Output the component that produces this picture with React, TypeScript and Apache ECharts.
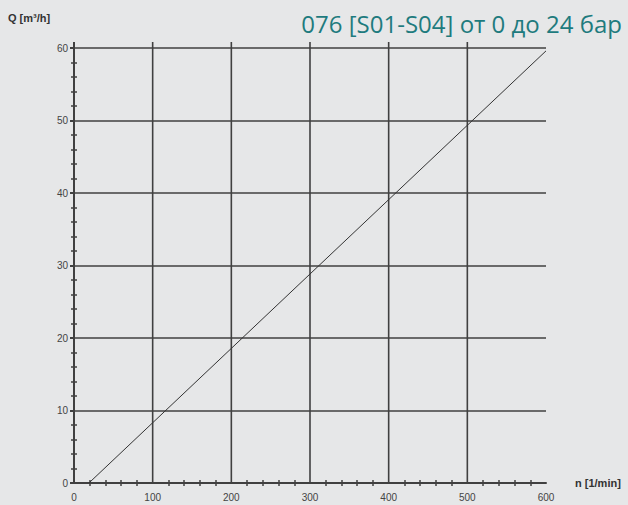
import React, { useEffect, useRef } from "react";
import * as echarts from "echarts";

// Flow rate Q vs. speed n
const speedN = [19, 600];
const flowQ = [0, 59.6];
// vertical grid positions (rpm)
const gridSpeeds = [0, 100, 200, 300, 400, 500];

const titleText = "076 [S01-S04] от 0 до 24 бар";
const yName = "Q [m³/h]";
const xName = "n [1/min]";

const GRID_COLOR = "#404040";
const GRID_WIDTH = 1.6;
const LABEL_FONT = "'Liberation Sans', Arial, sans-serif";

export default function App() {
  const ref = useRef<HTMLDivElement>(null);

  useEffect(() => {
    if (!ref.current) return;
    const chart = echarts.init(ref.current, undefined, { renderer: "svg" });

    const baseX = {
      type: "value" as const,
      min: 0,
      max: 600,
      interval: 100,
      position: "bottom" as const,
      splitLine: { show: false },
      axisLine: { show: true, lineStyle: { color: GRID_COLOR, width: 2 } },
      minorTick: {
        show: true,
        splitNumber: 5,
        length: 3,
        lineStyle: { color: GRID_COLOR, width: 1.5 },
      },
    };

    chart.setOption({
      animation: false,
      backgroundColor: "#e6e7e8",
      title: {
        text: titleText,
        right: 1,
        top: 6,
        textStyle: {
          color: "#1e7b7e",
          fontSize: 24,
          fontWeight: "normal",
          fontFamily: "'Open Sans', 'Noto Sans', sans-serif",
        },
      },
      graphic: [
        {
          type: "text",
          left: 8,
          top: 12,
          style: {
            text: yName,
            fill: "#333",
            font: `bold 11px ${LABEL_FONT}`,
          },
        },
        {
          type: "text",
          left: 575,
          top: 477,
          style: {
            text: xName,
            fill: "#333",
            font: `bold 11px ${LABEL_FONT}`,
          },
        },
      ],
      grid: { left: 74, right: 82, top: 48, bottom: 22 },
      xAxis: [
        {
          ...baseX,
          axisTick: { show: false },
          axisLabel: {
            margin: 9,
            fontSize: 10,
            color: "#444",
            fontFamily: LABEL_FONT,
          },
        },
        {
          ...baseX,
          axisLine: { show: false },
          axisTick: { show: false, inside: true },
          axisLabel: { show: false },
        },
      ],
      yAxis: [
        {
          type: "value",
          min: 0,
          max: 60,
          interval: 10,
          axisLine: { show: true, lineStyle: { color: GRID_COLOR, width: 2 } },
          axisTick: { show: true, length: 4, lineStyle: { color: GRID_COLOR, width: 2 } },
          minorTick: {
            show: true,
            splitNumber: 5,
            length: 3,
            lineStyle: { color: GRID_COLOR, width: 1.5 },
          },
          splitLine: { show: true, lineStyle: { color: GRID_COLOR, width: GRID_WIDTH } },
          axisLabel: {
            margin: 6,
            fontSize: 10,
            color: "#444",
            fontFamily: LABEL_FONT,
            formatter: (v: number) => String(v),
          },
        },
        {
          type: "value",
          min: 0,
          max: 60,
          interval: 10,
          position: "left",
          axisLine: { show: false },
          axisTick: { show: false, inside: true },
          minorTick: {
            show: true,
            splitNumber: 5,
            length: 3,
            lineStyle: { color: GRID_COLOR, width: 1.5 },
          },
          splitLine: { show: false },
          axisLabel: { show: false },
        },
      ],
      series: [
        {
          type: "custom",
          xAxisIndex: 0,
          yAxisIndex: 0,
          z: 1,
          data: gridSpeeds.map((v) => [v, 0]),
          renderItem: (_params: any, api: any) => {
            const x = api.value(0);
            const p0 = api.coord([x, 0]);
            const p1 = api.coord([x, 60]);
            return {
              type: "line",
              shape: { x1: p0[0], y1: p0[1], x2: p1[0], y2: p1[1] - 6 },
              style: { stroke: GRID_COLOR, lineWidth: x === 0 ? 2 : GRID_WIDTH },
            };
          },
        },
        {
          type: "line",
          xAxisIndex: 0,
          yAxisIndex: 0,
          z: 3,
          symbol: "none",
          lineStyle: { color: "#333", width: 1 },
          data: speedN.map((n, i) => [n, flowQ[i]]),
        },
      ],
    });

    return () => chart.dispose();
  }, []);

  return <div ref={ref} style={{ width: 628, height: 505, position: "absolute", left: 0, top: 0 }} />;
}
